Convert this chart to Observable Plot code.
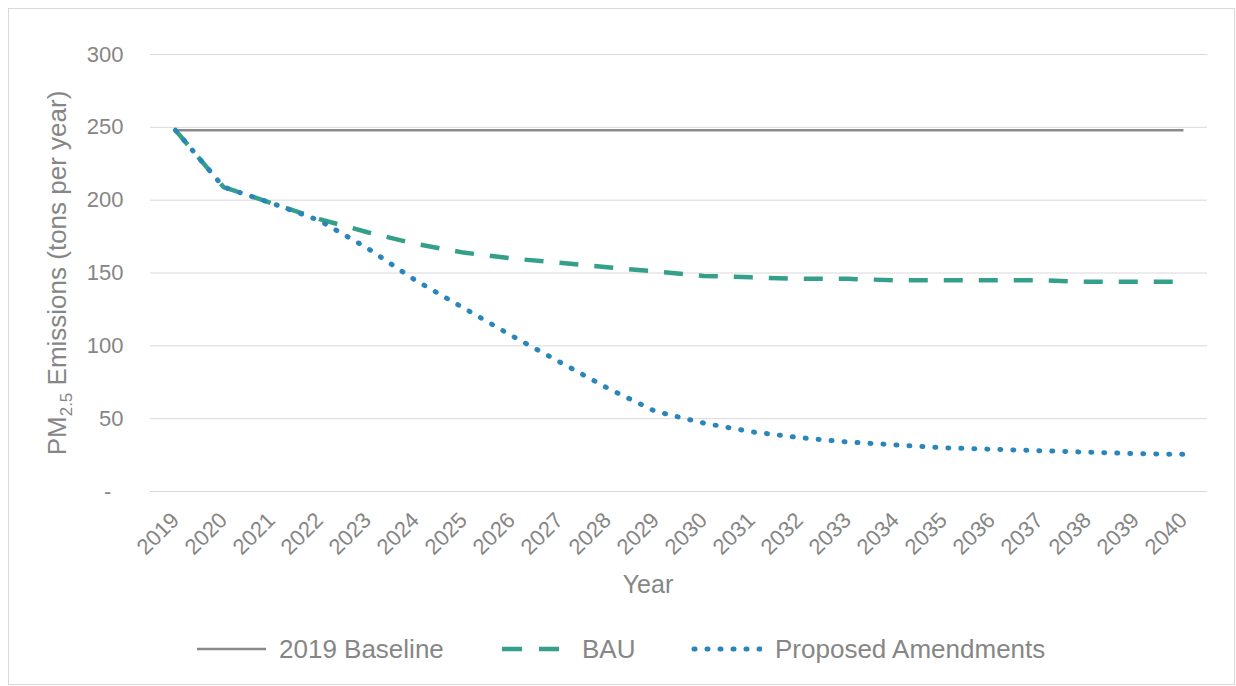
<!DOCTYPE html>
<html><head><meta charset="utf-8">
<script src="https://cdn.jsdelivr.net/npm/d3@7"></script>
<script src="https://cdn.jsdelivr.net/npm/@observablehq/plot@0.6"></script>
<style>
html,body{margin:0;padding:0;background:#fff;}
#wrap{position:relative;width:1236px;height:686px;font-family:"Liberation Sans",Arial,sans-serif;color:#868686;overflow:hidden;}
#frame{position:absolute;left:8px;top:8px;width:1227px;height:677px;box-sizing:border-box;border:1px solid #d9d9d9;pointer-events:none;}
#legend{position:absolute;left:0;top:629px;width:1236px;height:40px;}
.sw{position:absolute;top:15px;display:block;}
.lt{position:absolute;top:0;height:40px;line-height:40px;font-size:26px;white-space:nowrap;}
</style></head>
<body><div id="wrap"><div id="chart"></div><div id="legend"></div><div id="frame"></div></div>
<script>
const years = [2019,2020,2021,2022,2023,2024,2025,2026,2027,2028,2029,2030,2031,2032,2033,2034,2035,2036,2037,2038,2039,2040];
const baseline = [248,248,248,248,248,248,248,248,248,248,248,248,248,248,248,248,248,248,248,248,248,248];
const bau = [248,209,198,187,178,170,164,160,157,154,151,148,147,146,146,145,145,145,145,144,144,144];
const proposed = [248,209,198,186,167,145,126,107,89,71,55,47,41,37,34,32,30,29,28,27,26,25.5];
const yTicks = [0,50,100,150,200,250,300];
const seriesNames = ["2019 Baseline","BAU","Proposed Amendments"];
const seriesValues = [baseline, bau, proposed];

const styles = [
  {stroke:"#8a8a8a", strokeWidth:2.5, strokeDasharray:null, strokeLinecap:"butt"},
  {stroke:"#34a08a", strokeWidth:4.5, strokeDasharray:"19,16", strokeLinecap:"butt"},
  {stroke:"#2a86ba", strokeWidth:5, strokeDasharray:"1,12", strokeLinecap:"round"}
];

const rows = [];
seriesNames.forEach((s,i)=>years.forEach((y,j)=>rows.push({series:s, year:y, value:seriesValues[i][j]})));

const chart = Plot.plot({
  width:1236, height:600,
  marginLeft:150, marginRight:29, marginTop:54, marginBottom:109,
  style:{fontFamily:"'Liberation Sans', Arial, sans-serif", fontSize:"22px", color:"#868686", background:"transparent", overflow:"visible"},
  x:{type:"point", domain:years, padding:0.46},
  y:{domain:[0,300]},
  marks:[
    Plot.gridY(yTicks, {stroke:"#d9d9d9", strokeOpacity:1, strokeWidth:1}),
    Plot.axisY(yTicks, {tickSize:0, tickPadding:27, fontSize:22, label:null,
      tickFormat:d => d === 0 ? "-\u00a0\u00a0" : String(d)}),
    Plot.axisX(years, {tickSize:0, tickRotate:-45, tickPadding:25, dx:0, fontSize:22, label:null,
      tickFormat:d => String(d)}),
    ...seriesNames.map((s,i)=>Plot.line(rows.filter(r=>r.series===s), {
      x:"year", y:"value", stroke:styles[i].stroke, strokeWidth:styles[i].strokeWidth,
      strokeDasharray:styles[i].strokeDasharray, strokeLinecap:styles[i].strokeLinecap, strokeLinejoin:"round"
    }))
  ]
});
document.getElementById("chart").appendChild(chart);

const svg = d3.select(chart);
const t = svg.append("text")
  .attr("transform","translate(66,273) rotate(-90)")
  .attr("text-anchor","middle").attr("fill","#868686")
  .attr("font-size",26).attr("font-family","'Liberation Sans', Arial, sans-serif");
t.append("tspan").text("PM");
t.append("tspan").attr("font-size",17).attr("dy",6).text("2.5");
t.append("tspan").attr("dy",-6).text("\u00a0Emissions (tons per year)");

svg.append("text").attr("x",648).attr("y",593).attr("text-anchor","middle")
  .attr("fill","#868686").attr("font-size",25)
  .attr("font-family","'Liberation Sans', Arial, sans-serif").text("Year");

// legend
const swatchLeft = [197, 502, 691];
const swatchW = [69, 57, 71];
const textLeft = [279, 582, 775];
const legend = document.getElementById("legend");
seriesNames.forEach((s,i)=>{
  const w = swatchW[i];
  const st = styles[i];
  const x0 = st.strokeLinecap === "round" ? 3 : 0;
  const sw = document.createElementNS("http://www.w3.org/2000/svg","svg");
  sw.setAttribute("class","sw"); sw.setAttribute("width", w); sw.setAttribute("height", 10);
  sw.style.left = swatchLeft[i] + "px";
  sw.innerHTML = `<line x1="${x0}" x2="${w}" y1="5" y2="5" stroke="${st.stroke}" stroke-width="${st.strokeWidth}" ${st.strokeDasharray ? `stroke-dasharray="${i===1 ? "20,17" : st.strokeDasharray}"` : ""} stroke-linecap="${st.strokeLinecap}"/>`;
  legend.appendChild(sw);
  const tx = document.createElement("div");
  tx.className = "lt"; tx.style.left = textLeft[i] + "px"; tx.textContent = s;
  legend.appendChild(tx);
});
</script>
</body></html>
